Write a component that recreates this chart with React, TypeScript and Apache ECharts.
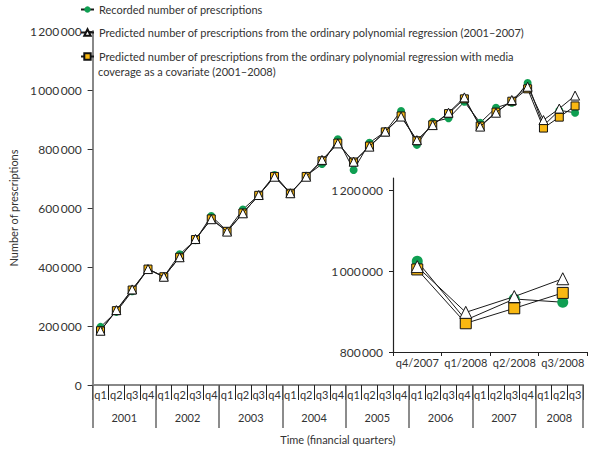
import React, { useEffect, useRef } from 'react';
import * as echarts from 'echarts';

const quarterLabels = [
  'q1', 'q2', 'q3', 'q4', 'q1', 'q2', 'q3', 'q4', 'q1', 'q2', 'q3', 'q4',
  'q1', 'q2', 'q3', 'q4', 'q1', 'q2', 'q3', 'q4', 'q1', 'q2', 'q3', 'q4',
  'q1', 'q2', 'q3', 'q4', 'q1', 'q2', 'q3',
];
const years = ['2001', '2002', '2003', '2004', '2005', '2006', '2007', '2008'];
const yearBoundaries = [0, 4, 8, 12, 16, 20, 24, 28, 31];
const yearCentres = [2, 6, 10, 14, 18, 22, 26, 29.5];

const recorded = [
  197000, 248000, 318000, 393000, 367000, 443000, 491000, 573000,
  522000, 595000, 644000, 712000, 650000, 709000, 749000, 833000,
  729000, 821000, 859000, 929000, 814000, 892000, 904000, 960000,
  889000, 940000, 957000, 1024000, 879000, 931000, 923000,
];
const predicted = [
  184000, 254000, 324000, 393000, 367000, 433000, 495000, 562000,
  520000, 582000, 644000, 706000, 650000, 706000, 763000, 819000,
  757000, 808000, 859000, 910000, 830000, 881000, 923000, 975000,
  876000, 923000, 966000, 1011000, 898000, 937000, 981000,
];
const predictedMedia = [
  184000, 252000, 322000, 393000, 367000, 433000, 493000, 563000,
  521000, 583000, 643000, 707000, 650000, 707000, 760000, 820000,
  756000, 810000, 858000, 912000, 828000, 882000, 920000, 970000,
  878000, 925000, 962000, 1004000, 871000, 908000, 946000,
];

const insetCategories = ['q4/2007', 'q1/2008', 'q2/2008', 'q3/2008'];
const insetStart = 27;
const insetTicks = [800000, 1000000, 1200000];

const nameRec = 'Recorded number of prescriptions';
const namePred = 'Predicted number of prescriptions from the ordinary polynomial regression (2001–2007)';
const nameMedia = 'Predicted number of prescriptions from the ordinary polynomial regression with media';
const nameMediaLine2 = 'coverage as a covariate (2001–2008)';

const FONT = 'Lato';
const TXT = '#333333';
const GREEN = '#0f9f52';
const YELLOW = '#f9b812';
const AXIS_GREY = '#888888';

const fmt = (v: number) => String(v).replace(/\B(?=(\d{3})+(?!\d))/g, '\u2009');

export default function App() {
  const ref = useRef<HTMLDivElement>(null);
  useEffect(() => {
    if (!ref.current) return;
    const chart = echarts.init(ref.current, undefined, { renderer: 'svg' });

    const recStyle = (size: number) => ({
      symbol: 'circle',
      symbolSize: size,
      itemStyle: { color: GREEN, borderWidth: 0 },
      lineStyle: { color: '#1a1a1a', width: 1 },
    });
    const predStyle = (size: number) => ({
      symbol: 'triangle',
      symbolSize: size,
      itemStyle: { color: '#ffffff', borderColor: '#111', borderWidth: 1 },
      lineStyle: { color: '#1a1a1a', width: 1 },
    });
    const mediaStyle = (size: number) => ({
      symbol: 'rect',
      symbolSize: size,
      itemStyle: { color: YELLOW, borderColor: '#111', borderWidth: 1 },
      lineStyle: { color: '#1a1a1a', width: 1 },
    });

    const legendBase = {
      orient: 'vertical',
      left: 80,
      itemWidth: 13,
      itemHeight: 8,
      padding: 0,
      selectedMode: false,
      textStyle: { fontFamily: FONT, fontSize: 11, color: TXT },
    };

    const option: any = {
      animation: false,
      textStyle: { fontFamily: FONT },
      legend: [
        { ...legendBase, top: 4, data: [nameRec] },
        { ...legendBase, top: 27, data: [namePred] },
        { ...legendBase, top: 51, data: [nameMedia] },
      ],
      graphic: [
        {
          type: 'text',
          left: 98,
          top: 66,
          style: { text: nameMediaLine2, fontFamily: FONT, fontSize: 11, fill: TXT },
        },
      ],
      grid: [
        { left: 80, right: 17, top: 31, bottom: 69 },
        { left: 393, right: 13, top: 178, bottom: 102 },
      ],
      xAxis: [
        {
          type: 'category',
          gridIndex: 0,
          data: quarterLabels,
          boundaryGap: true,
          axisLine: { lineStyle: { color: AXIS_GREY, width: 2 } },
          axisTick: { show: true, interval: 0, length: 15, lineStyle: { color: '#222', width: 1 } },
          axisLabel: { interval: 0, margin: 4, fontFamily: FONT, fontSize: 11, color: TXT },
        },
        {
          type: 'value',
          gridIndex: 0,
          position: 'bottom',
          min: 0,
          max: 31,
          name: 'Time (financial quarters)',
          nameLocation: 'middle',
          nameGap: 49,
          nameTextStyle: { fontFamily: FONT, fontSize: 11, color: TXT },
          axisLine: { show: false },
          splitLine: { show: false },
          axisTick: {
            show: true,
            length: 43,
            customValues: yearBoundaries,
            lineStyle: { color: '#666', width: 1.5 },
          },
          axisLabel: {
            margin: 27,
            customValues: yearCentres,
            formatter: (v: number) => years[yearCentres.indexOf(v)] ?? '',
            fontFamily: FONT,
            fontSize: 11,
            color: TXT,
          },
        },
        {
          type: 'category',
          gridIndex: 1,
          data: insetCategories,
          boundaryGap: true,
          axisLine: { lineStyle: { color: '#222', width: 1.2 } },
          axisTick: { show: true, length: 4, lineStyle: { color: '#222', width: 1 } },
          axisLabel: { interval: 0, margin: 5, fontFamily: FONT, fontSize: 11, color: TXT },
        },
      ],
      yAxis: [
        {
          type: 'value',
          gridIndex: 0,
          min: 0,
          max: 1200000,
          interval: 200000,
          name: 'Number of prescriptions',
          nameLocation: 'middle',
          nameGap: 68,
          nameTextStyle: { fontFamily: FONT, fontSize: 11, color: TXT },
          axisLine: { show: true, lineStyle: { color: AXIS_GREY, width: 2 } },
          axisTick: { show: true, length: 5, lineStyle: { color: '#333', width: 1 } },
          splitLine: { show: false },
          axisLabel: { margin: 11, formatter: fmt, fontFamily: FONT, fontSize: 12, color: TXT },
        },
        {
          type: 'value',
          gridIndex: 1,
          min: 800000,
          max: 1230000,
          axisLine: { show: true, lineStyle: { color: '#222', width: 1.2 } },
          axisTick: { show: true, length: 4, customValues: insetTicks, lineStyle: { color: '#222', width: 1 } },
          splitLine: { show: false },
          axisLabel: { margin: 10, customValues: insetTicks, formatter: fmt, fontFamily: FONT, fontSize: 12, color: TXT },
        },
      ],
      series: [
        { name: nameRec, type: 'line', xAxisIndex: 0, yAxisIndex: 0, data: recorded, z: 2, ...recStyle(8) },
        { name: nameMedia, type: 'line', xAxisIndex: 0, yAxisIndex: 0, data: predictedMedia, z: 3, ...mediaStyle(8) },
        { name: namePred, type: 'line', xAxisIndex: 0, yAxisIndex: 0, data: predicted, z: 4, ...predStyle(9) },
        { name: '__years', type: 'line', xAxisIndex: 1, yAxisIndex: 0, data: [], silent: true },
        { name: nameRec, type: 'line', xAxisIndex: 2, yAxisIndex: 1, data: recorded.slice(insetStart), z: 2, ...recStyle(11) },
        { name: nameMedia, type: 'line', xAxisIndex: 2, yAxisIndex: 1, data: predictedMedia.slice(insetStart), z: 3, ...mediaStyle(11) },
        { name: namePred, type: 'line', xAxisIndex: 2, yAxisIndex: 1, data: predicted.slice(insetStart), z: 4, ...predStyle(12) },
      ],
    };
    chart.setOption(option);
    return () => chart.dispose();
  }, []);

  return <div ref={ref} style={{ width: 600, height: 454, position: 'absolute', left: 0, top: 0, background: '#fff' }} />;
}
